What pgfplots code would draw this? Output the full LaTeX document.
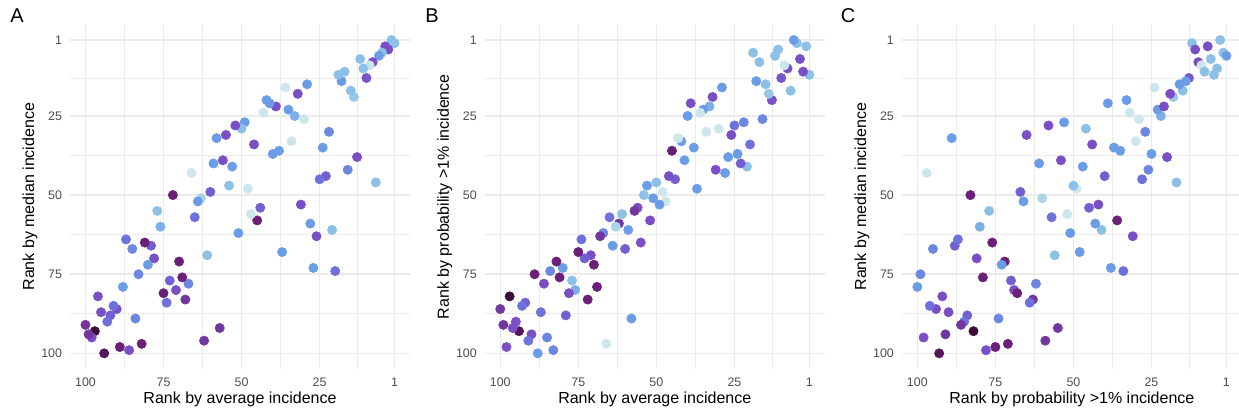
\documentclass[border=0pt]{standalone}
\usepackage{pgfplots}
\pgfplotsset{compat=1.18}
\usepackage{pgfplotstable}
\usepackage{fontspec}
\setmainfont{Liberation Sans}

\definecolor{gridgray}{HTML}{EBEBEB}
\definecolor{ticktext}{HTML}{4D4D4D}

% rank by average, median, probability >1%; c = colour level (0 pale .. 6 near black)
\pgfplotstableread{
avg med prob c
1 2 12 1
2 1 3 1
3 4 11 4
4 3 7 4
5 5 2 1
6 6 1 2
7 46 17 1
8 8 10 4
9 9 9 0
10 13 13 3.8
11 10 4 1
12 7 6 1
13 38 20 4
14 19 18 0.8
15 17 15 1
16 42 26 2.5
17 11 8 1
18 14 14 2
19 12 5 1
20 74 34 3
21 61 41 1
22 30 27 2.5
23 44 40 3.5
24 35 37 2
25 45 28 3
26 63 31 4
27 73 38 2
28 59 43 2
29 15 16 2
30 26 29 0
31 53 42 4
32 18 19 4
33 25 22 1.5
34 33 30 0
35 23 23 2
36 16 24 0
37 68 48 2
38 36 35 2
39 22 21 4
40 37 25 2
41 21 39 2
42 20 33 2
43 24 32 0
44 54 45 3.5
45 58 36 5
46 34 44 4
47 56 52 0
48 48 49 0
49 27 53 2
50 29 46 1
51 62 51 2
52 28 58 4
53 41 47 2
54 47 50 1
55 31 65 4
56 39 54 4
57 92 55 4.5
58 32 89 2
59 40 61 2
60 49 67 3.5
61 69 56 1
62 96 59 4.5
63 51 60 0.5
64 52 66 2
65 57 57 3
66 43 97 0
67 78 62 2.5
68 83 63 4.5
69 76 79 5
70 71 72 5
71 80 69 4
72 50 83 5
73 77 70 3.5
74 84 64 3
75 81 68 5
76 60 80 1.5
77 55 77 1
78 70 81 4
79 66 88 3.5
80 72 73 2
81 65 76 5
82 97 71 5
83 75 99 2.5
84 89 74 2.5
85 67 95 2.5
86 99 78 4
87 64 87 3
88 79 100 2
89 98 75 5
90 86 94 4
91 85 96 3
92 88 84 3.5
93 90 85 3
94 100 93 5.5
95 87 90 4
96 82 92 4
97 93 82 6
98 95 98 4
99 94 91 4.5
100 91 86 4.5
}\ranks

\pgfplotsset{
  rankpanel/.style={
    anchor=south west,
    scale only axis, width=255pt, height=258.5pt,
    xmin=-3.95, xmax=104.95, ymin=-3.95, ymax=104.95,
    x dir=reverse, y dir=reverse,
    xtick={1,25,50,75,100}, ytick={1,25,50,75,100},
    minor xtick={13,37.5,62.5,87.5}, minor ytick={13,37.5,62.5,87.5},
    grid=both,
    major grid style={gridgray, line width=1.1pt},
    minor grid style={gridgray, line width=0.55pt},
    axis line style={draw=none},
    major tick length=0pt, minor tick length=0pt,
    tick label style={font=\fontsize{9.3}{11}\selectfont, text=ticktext},
    xticklabel style={yshift=-3pt},
    yticklabel style={xshift=-2.5pt},
    /pgf/number format/assume math mode=true,
    label style={font=\fontsize{12}{14}\selectfont},
    xlabel style={at={(axis description cs:0.5,0)}, anchor=center, yshift=-22.5pt},
    ylabel style={at={(axis description cs:0,0.5)}, anchor=center, yshift=30pt},
    colormap={pts}{rgb255(0)=(205,230,236) rgb255(1)=(140,192,230) rgb255(2)=(106,157,230) rgb255(3)=(110,112,220) rgb255(4)=(122,78,196) rgb255(5)=(106,31,120) rgb255(6)=(62,12,58)},
    point meta min=0, point meta max=6,
  },
  dots/.style={scatter, only marks, mark=*, mark size=3.5pt, point meta=explicit,
    scatter/use mapped color={draw=mapped color, fill=mapped color}},
}

\begin{document}
\begin{tikzpicture}
\path[use as bounding box] (0,0) rectangle (929.25pt,311.25pt);

\begin{axis}[rankpanel, at={(52.5pt,34.5pt)},
  xlabel={Rank by average incidence}, ylabel={Rank by median incidence}]
\addplot[dots] table[x=avg, y=med, meta=c] {\ranks};
\end{axis}

\begin{axis}[rankpanel, at={(363.6pt,34.5pt)},
  xlabel={Rank by average incidence}, ylabel={Rank by probability >1\% incidence}]
\addplot[dots] table[x=avg, y=prob, meta=c] {\ranks};
\end{axis}

\begin{axis}[rankpanel, at={(676.4pt,34.5pt)},
  xlabel={Rank by probability >1\% incidence}, ylabel={Rank by median incidence}]
\addplot[dots] table[x=prob, y=med, meta=c] {\ranks};
\end{axis}

\node[font=\fontsize{15}{17}\selectfont] at (12.75pt,299.25pt) {A};
\node[font=\fontsize{15}{17}\selectfont] at (324pt,299.25pt) {B};
\node[font=\fontsize{15}{17}\selectfont] at (636pt,299.25pt) {C};
\end{tikzpicture}
\end{document}
